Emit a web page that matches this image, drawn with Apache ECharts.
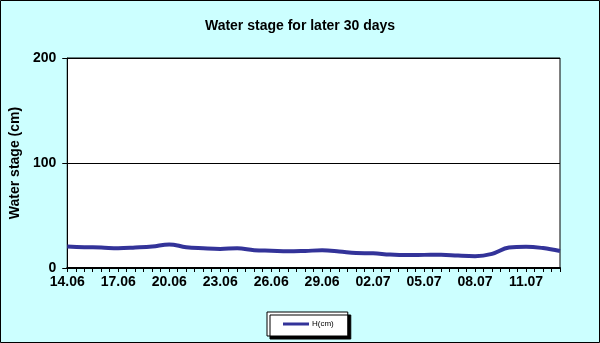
<!DOCTYPE html>
<html><head><meta charset="utf-8">
<script src="https://cdn.jsdelivr.net/npm/echarts@6/dist/echarts.min.js"></script>
<style>html,body{margin:0;padding:0;background:#CCFFFF}#c{width:600px;height:343px}</style>
</head><body><div id="c"></div>
<script>
const dates = ["14.06","15.06","16.06","17.06","18.06","19.06","20.06","21.06","22.06","23.06","24.06","25.06","26.06","27.06","28.06","29.06","30.06","01.07","02.07","03.07","04.07","05.07","06.07","07.07","08.07","09.07","10.07","11.07","12.07","13.07"];
const hValues = [20.5,19.8,19.5,18.8,19.5,20.5,22.5,19.8,18.8,18.2,18.8,17,16.5,16,16.3,16.8,15.8,14.3,14,12.8,12.3,12.5,12.7,11.8,11.3,13.5,19.5,20.3,19,16.2];
const yTicks = [0,100,200];
const seriesName = "H(cm)";
const titleText = "Water stage for later 30 days";
const yName = "Water stage (cm)";

const font = "'Liberation Sans', Arial, sans-serif";
const chart = echarts.init(document.getElementById('c'));
chart.setOption({
  backgroundColor: '#CCFFFF',
  animation: false,
  title: { text: titleText, left: 'center', top: 14, textStyle: { fontFamily: font, fontSize: 14, fontWeight: 'bold', color: '#000' } },
  grid: { left: 64, right: 40, top: 58, bottom: 75, show: true, backgroundColor: '#fff', borderColor: '#000', borderWidth: 1 },
  legend: {
    left: 267, top: 312, itemWidth: 26, itemHeight: 3, itemGap: 4,
    padding: [8, 14, 8, 16],
    backgroundColor: '#fff', borderColor: '#000', borderWidth: 1,
    shadowColor: '#000', shadowOffsetX: 3, shadowOffsetY: 3, shadowBlur: 0,
    textStyle: { fontFamily: font, fontSize: 8, color: '#000', padding: [0,0,0,-2] },
    data: [{ name: seriesName, icon: 'rect' }]
  },
  xAxis: {
    type: 'value', min: 0, max: dates.length - 1, interval: 3,
    axisLine: { lineStyle: { color: '#000', width: 2 } },
    axisTick: { show: true, length: 4, lineStyle: { color: '#000' } },
    minorTick: { show: true, splitNumber: 6, length: 4, lineStyle: { color: '#000' } },
    splitLine: { show: false },
    axisLabel: { showMaxLabel: false, margin: 7, fontFamily: font, fontSize: 14, fontWeight: 'bold', color: '#000', formatter: v => dates[v] || '' }
  },
  yAxis: {
    type: 'value', min: yTicks[0], max: yTicks[yTicks.length-1], interval: yTicks[1]-yTicks[0],
    name: yName, nameLocation: 'middle', nameGap: 42, nameRotate: 90,
    nameTextStyle: { fontFamily: font, fontSize: 14, fontWeight: 'bold', color: '#000' },
    axisLine: { show: true, lineStyle: { color: '#000' } },
    axisTick: { show: true, length: 5, lineStyle: { color: '#000' } },
    splitLine: { show: true, lineStyle: { color: '#000', width: 1 } },
    axisLabel: { margin: 11, fontFamily: font, fontSize: 14, fontWeight: 'bold', color: '#000' }
  },
  graphic: [{ type: 'rect', shape: { x: 0.5, y: 0.5, width: 599, height: 342 }, style: { fill: 'none', stroke: '#000', lineWidth: 1 }, z: 100 }],
  series: [{
    name: seriesName, type: 'line', smooth: 0.4, symbol: 'none',
    data: hValues.map((v, i) => [i, v]),
    lineStyle: { color: '#333399', width: 4 }, itemStyle: { color: '#333399' }
  }]
});
</script></body></html>
